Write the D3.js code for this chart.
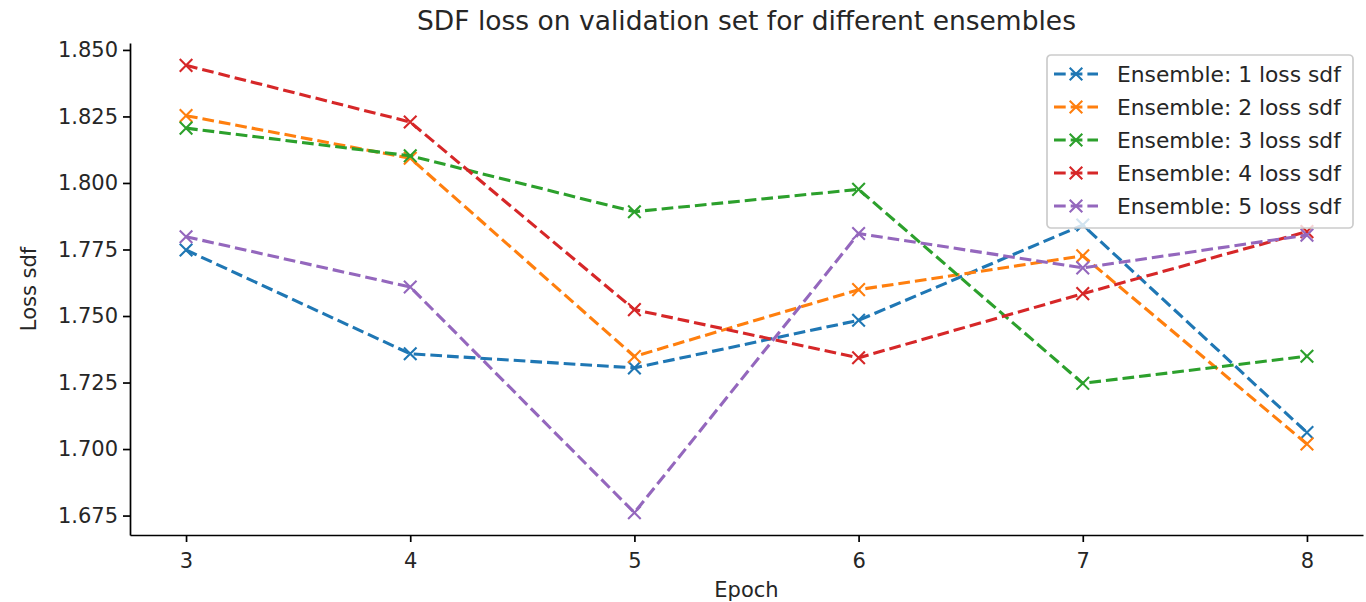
<html>
    <head>
        <script type="text/javascript" src="https://d3js.org/d3.v7.min.js"></script>
        <style>
            body { margin: 0; background: #fff; }
            text { font-family: "DejaVu Sans", sans-serif; fill: #262626; }
        </style>
    </head>
    <body>
        <svg width="1366" height="602"></svg>
        <script>
            var epochs = [3, 4, 5, 6, 7, 8];
            var ensemble1 = [1.7748, 1.7358, 1.7305, 1.7484, 1.7842, 1.7062];
            var ensemble2 = [1.8253, 1.8093, 1.7348, 1.7599, 1.7726, 1.7019];
            var ensemble3 = [1.8206, 1.8102, 1.7892, 1.7976, 1.7247, 1.7349];
            var ensemble4 = [1.8442, 1.8229, 1.7524, 1.7343, 1.7584, 1.7817];
            var ensemble5 = [1.7798, 1.7609, 1.6761, 1.7810, 1.7681, 1.7804];
            var seriesNames = ["Ensemble: 1 loss sdf", "Ensemble: 2 loss sdf", "Ensemble: 3 loss sdf",
                               "Ensemble: 4 loss sdf", "Ensemble: 5 loss sdf"];
            var yTicks = [1.675, 1.700, 1.725, 1.750, 1.775, 1.800, 1.825, 1.850];
            var colors = ["#1f77b4", "#ff7f0e", "#2ca02c", "#d62728", "#9467bd"];

            var series = [ensemble1, ensemble2, ensemble3, ensemble4, ensemble5].map(function (vals, i) {
                return { name: seriesNames[i], color: colors[i],
                         points: vals.map(function (v, j) { return { x: epochs[j], y: v }; }) };
            });

            var svg = d3.select("svg");
            var plot = { left: 130, right: 1363, top: 43, bottom: 535 };

            // matplotlib style 5% margins
            var xExt = d3.extent(epochs), xPad = (xExt[1] - xExt[0]) * 0.05;
            var allY = [].concat(ensemble1, ensemble2, ensemble3, ensemble4, ensemble5);
            var yExt = d3.extent(allY), yPad = (yExt[1] - yExt[0]) * 0.05;

            var xScale = d3.scaleLinear()
                .domain([xExt[0] - xPad, xExt[1] + xPad])
                .range([plot.left, plot.right]);
            var yScale = d3.scaleLinear()
                .domain([yExt[0] - yPad, yExt[1] + yPad])
                .range([plot.bottom, plot.top]);

            var xAxis = d3.axisBottom(xScale).tickValues(epochs).tickFormat(d3.format("d"))
                .tickSize(7).tickPadding(6).tickSizeOuter(0);
            var yAxis = d3.axisLeft(yScale).tickValues(yTicks).tickFormat(d3.format(".3f"))
                .tickSize(7).tickPadding(5).tickSizeOuter(0);

            var gx = svg.append("g").attr("transform", "translate(0," + plot.bottom + ")").call(xAxis);
            var gy = svg.append("g").attr("transform", "translate(" + plot.left + ",0)").call(yAxis);
            [gx, gy].forEach(function (g) {
                g.selectAll("path.domain").attr("stroke", "#000").attr("stroke-width", 1.7);
                g.selectAll(".tick line").attr("stroke", "#000").attr("stroke-width", 1.7);
                g.selectAll(".tick text").style("font-size", "21px").style("font-family", "DejaVu Sans").attr("fill", "#262626");
            });
            gx.selectAll(".tick text").attr("dy", "0.95em");

            // lines
            var line = d3.line()
                .x(function (d) { return xScale(d.x); })
                .y(function (d) { return yScale(d.y); });

            function cross(sel, r) {
                sel.append("path")
                    .attr("d", "M" + (-r) + "," + (-r) + "L" + r + "," + r + "M" + (-r) + "," + r + "L" + r + "," + (-r))
                    .attr("fill", "none")
                    .attr("stroke-width", 2.1);
            }

            series.forEach(function (s) {
                var g = svg.append("g");
                g.append("path")
                    .datum(s.points)
                    .attr("d", line)
                    .attr("fill", "none")
                    .attr("stroke", s.color)
                    .attr("stroke-width", 3.1)
                    .attr("stroke-dasharray", "11.7,5");
                g.selectAll(".mk")
                    .data(s.points)
                    .enter()
                    .append("g")
                    .attr("transform", function (d) { return "translate(" + xScale(d.x) + "," + yScale(d.y) + ")"; })
                    .attr("stroke", s.color)
                    .each(function () { cross(d3.select(this), 6.3); });
            });

            // title and axis labels
            var midX = (plot.left + plot.right) / 2;
            svg.append("text")
                .attr("x", midX).attr("y", 30)
                .attr("text-anchor", "middle")
                .style("font-size", "26.5px")
                .text("SDF loss on validation set for different ensembles");
            svg.append("text")
                .attr("x", midX).attr("y", 597)
                .attr("text-anchor", "middle")
                .style("font-size", "21px")
                .text("Epoch");
            svg.append("text")
                .attr("transform", "translate(36," + ((plot.top + plot.bottom) / 2) + ") rotate(-90)")
                .attr("text-anchor", "middle")
                .style("font-size", "21px")
                .text("Loss sdf");

            // legend
            var lg = svg.append("g").attr("transform", "translate(1047,55)");
            lg.append("rect")
                .attr("width", 306).attr("height", 173)
                .attr("rx", 4)
                .attr("fill", "#fff").attr("fill-opacity", 0.8)
                .attr("stroke", "#cccccc").attr("stroke-width", 1.7);
            var items = lg.selectAll(".item")
                .data(series)
                .enter()
                .append("g")
                .attr("transform", function (d, i) { return "translate(0," + (19 + i * 33) + ")"; });
            items.append("line")
                .attr("x1", 7).attr("x2", 51)
                .attr("stroke", function (d) { return d.color; })
                .attr("stroke-width", 3.1)
                .attr("stroke-dasharray", "11.7,5");
            items.append("g")
                .attr("transform", "translate(29,0)")
                .attr("stroke", function (d) { return d.color; })
                .each(function () { cross(d3.select(this), 6.3); });
            items.append("text")
                .attr("x", 70).attr("y", 7.8)
                .style("font-size", "21.8px")
                .text(function (d) { return d.name; });
        </script>
    </body>
</html>
